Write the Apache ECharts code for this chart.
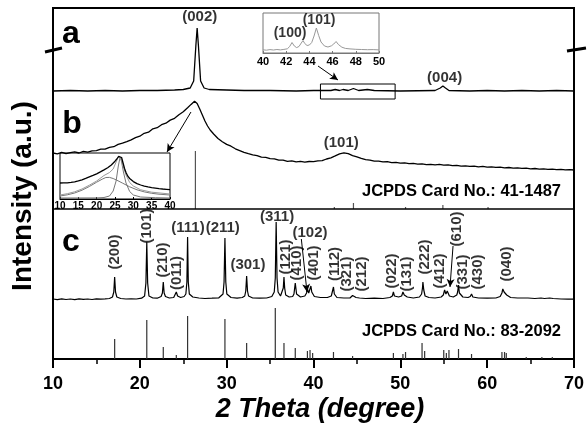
<!DOCTYPE html>
<html><head><meta charset="utf-8">
<script src="https://cdn.jsdelivr.net/npm/echarts/dist/echarts.min.js"></script>
<style>html,body{margin:0;padding:0;background:#fff}#c{width:588px;height:429px}</style>
</head><body><div id="c"></div>
<script>
const FONT = '"Liberation Sans", Arial, sans-serif';

// ---- axis ticks ----
const xTicks = [10, 20, 30, 40, 50, 60, 70];
const insetATicks = [40, 42, 44, 46, 48, 50];
const insetBTicks = [10, 15, 20, 25, 30, 35, 40];

// ---- panel a: graphite pattern (intensity above its own baseline) ----
const patternA = [[10,0],[12,0.5],[14,0],[16,0.5],[18,0],[20,0.5],[22,0.5],[24,1],[25,1.5],[25.8,3],[26.2,10],[26.45,45],[26.6,63],[26.75,45],[27,10],[27.4,3],[28,1.5],[30,1],[32,0.5],[35,0.5],[38,0],[40,0.5],[42,0.5],[42.5,1.5],[43,0.5],[43.4,1.5],[44,0.5],[44.6,2.5],[45.2,0.5],[46.2,1.5],[47,0.5],[50,0],[54,0.5],[54.6,3],[54.9,5],[55.2,3],[55.6,0.5],[58,0],[60,0.5],[62,0],[64,0.5],[66,0],[68,0.5],[70,0]];

// ---- inset of panel a (40-50 deg) ----
const insetA = [[40,3.2],[40.3,2.8],[40.6,3.4],[40.9,3],[41.2,3.5],[41.5,3.1],[41.8,3.6],[42.1,4.2],[42.3,6.5],[42.5,10.5],[42.7,7],[42.9,5.4],[43.1,6.5],[43.3,10],[43.45,12.5],[43.6,9.5],[43.8,7.5],[44.0,8],[44.2,10.5],[44.4,17],[44.6,25],[44.8,17.5],[45.0,11],[45.3,7],[45.6,6],[45.9,7.2],[46.1,9],[46.3,11.5],[46.5,8.5],[46.8,5.8],[47.1,4.6],[47.5,4.1],[48,3.7],[48.5,3.5],[49,3.3],[49.5,3.4],[50,3.1]];

// ---- panel b: pattern (intensity above the b/c divider) ----
const patternB = [[10,56],[10.5,55.2],[11,56.6],[11.5,55.4],[12,56.3],[12.5,57.1],[13,56],[13.5,57.6],[14,56.9],[14.5,58.2],[15,58.4],[15.5,59.8],[16,59.9],[16.5,61.7],[17,62.3],[17.5,64.6],[18,65.8],[18.5,67.4],[19,69.2],[19.5,71.3],[20,72.8],[20.5,75.7],[21,76.8],[21.5,80.2],[22,81.3],[22.5,84.3],[23,85.8],[23.5,88.9],[24,90.7],[24.5,94.3],[25,97.2],[25.5,101.3],[25.9,104.6],[26.3,107.8],[26.6,105.5],[26.9,100],[27.2,94],[27.5,88],[27.8,83],[28.1,79],[28.5,75],[29,70.5],[29.5,67.3],[30,64.6],[30.5,62.8],[31,60.2],[31.5,58.4],[32,56.6],[32.5,55.3],[33,54.2],[33.5,53.4],[34,51.8],[34.5,51.7],[35,50.3],[35.5,50.2],[36,48.8],[36.5,48.9],[37,47.7],[37.5,48.1],[38,47.2],[38.5,47.6],[39,46.8],[39.5,47.5],[40,47.3],[40.5,48.2],[41,48.4],[41.5,50],[42,51.2],[42.5,53.1],[43,55.2],[43.5,56.1],[44,55.3],[44.5,53.4],[45,52.2],[45.5,50.6],[46,49.3],[46.5,48.9],[47,47.8],[47.5,47.9],[48,47.2],[48.5,47.4],[49,46.4],[49.5,46.6],[50,45.8],[50.5,46.1],[51,45.3],[51.5,45.6],[52,44.8],[52.5,45.2],[53,44.4],[53.5,44.7],[54,44.2],[54.5,44.6],[55,43.8],[55.5,44.1],[56,43.3],[56.5,43.7],[57,42.8],[57.5,43.2],[58,42.7],[58.5,42.9],[59,42.2],[59.5,42.6],[60,41.8],[60.5,42.1],[61,41.6],[61.5,41.9],[62,41.2],[62.5,41.5],[63,40.8],[63.5,41.1],[64,40.6],[64.5,40.9],[65,40.2],[65.5,40.5],[66,39.8],[66.5,40.1],[67,39.7],[67.5,39.9],[68,39.3],[68.5,39.6],[69,39.1],[69.5,39.4],[70,39]];

// JCPDS 41-1487 reference lines [2theta, relative intensity]
const refB = [[26.4,58],[42.4,2],[44.6,6],[50.6,2],[54.9,4],[60.1,2]];

// ---- inset of panel b (10-40 deg): observed + fitted components ----
const insetBObs = [[10,16],[10.5,16.8],[11,16.1],[11.5,16.9],[12,16.2],[12.5,17],[13,16.6],[13.5,17.5],[14,17.1],[14.5,18],[15,18.1],[15.5,19],[16,19.2],[16.5,20.2],[17,20.6],[17.5,21.7],[18,22.1],[18.5,23.2],[19,23.6],[19.5,24.8],[20,25.2],[20.5,26.5],[21,27.1],[21.5,28.4],[22,29.1],[22.5,30.5],[23,31.3],[23.5,32.9],[24,34],[24.5,35.8],[25,37.8],[25.5,40],[26,42.6],[26.4,44],[26.8,41.5],[27.2,36],[27.6,30.5],[28,26.5],[28.5,22.8],[29,20.5],[29.5,18.6],[30,17.4],[30.5,16],[31,15.4],[31.5,14.2],[32,14],[32.5,13],[33,12.9],[33.5,12],[34,12.1],[34.5,11.2],[35,11.4],[35.5,10.6],[36,10.9],[36.5,10.1],[37,10.4],[37.5,9.7],[38,10],[38.5,9.3],[39,9.7],[39.5,9],[40,9.3]];
const insetBBroad = [[10,3],[12,4.2],[14,6],[16,8.8],[18,12.5],[20,16.8],[21.5,19.8],[22.5,21.5],[23.5,21.6],[24.5,20.5],[25.5,18.8],[27,16],[29,12.2],[31,9.2],[33,7.1],[35,5.7],[37,4.8],[40,4]];
const insetBSharp = [[10,1],[20,1.1],[22,1.5],[23.5,3],[24.5,8],[25.3,18],[25.9,33],[26.4,42],[26.8,37],[27.3,27],[28,16],[29,7.5],[30,4],[32,2],[36,1.3],[40,1]];
const insetBSum = [[10,4],[12,5.3],[14,7.2],[16,10],[18,13.8],[20,18],[22,23.5],[23.5,26.5],[24.5,30],[25.3,37],[25.9,42],[26.4,43.5],[26.8,40],[27.3,32],[28,24],[29,16.5],[30,13],[32,9.2],[35,6.8],[40,5]];

// ---- panel c: pattern (intensity above its own baseline) ----
const patternC = [[10,1],[10.5,0.4],[11,1.2],[11.5,0.5],[12,1],[12.5,0.3],[13,1.1],[13.5,0.6],[14,1],[14.5,0.5],[15,1.2],[15.5,0.8],[16,1.1],[16.5,1.5],
[16.85,3],[17.0,8],[17.1,23],[17.2,8],[17.35,3],[17.8,1.5],[18.4,1],[19,1.2],[19.6,1],[20.2,1.8],
[20.55,4],[20.7,17],[20.8,58],[20.9,17],[21.05,4],[21.5,2],[22,1.8],
[22.45,3.5],[22.6,7],[22.7,18],[22.8,7],[22.95,3.5],[23.4,2],[23.9,2.5],
[24.05,4],[24.2,8],[24.35,4],[24.7,2.5],[25.1,3.5],
[25.3,6],[25.42,18],[25.5,63],[25.58,18],[25.7,6],[26.1,3],[26.8,2],[27.5,1.5],[28.3,1.8],[29.1,2.2],
[29.58,6],[29.7,18],[29.8,62],[29.9,18],[30.02,6],[30.5,2.5],[31.2,1.8],[31.8,2.5],
[32.08,4],[32.2,9],[32.3,24],[32.4,9],[32.52,4],[33,2],[33.8,1.8],[34.6,2],[35.2,3.5],
[35.48,8],[35.6,22],[35.7,78],[35.8,22],[35.92,8],[36.2,4],
[36.42,6],[36.52,12],[36.6,23],[36.68,12],[36.8,5],[37.2,3],[37.6,3.5],
[37.75,6],[37.9,17],[38.05,6],[38.5,3],[39.0,4],
[39.2,7],[39.3,11],[39.45,7],[39.6,9],[39.7,14],[39.8,8],[40.1,3.5],[40.8,2.5],[41.6,2.5],[42.05,4],
[42.2,6],[42.3,13],[42.4,6],[42.7,2.5],[43.5,2],[44.2,2],
[44.4,2.5],[44.5,4.5],[44.6,2.5],[44.9,2.5],[45.1,4],[45.3,2],[46,1.5],[47,1.8],[48,1.5],[48.8,2.5],
[49.08,4],[49.2,8],[49.32,4],[49.8,3],[50.15,4],[50.3,8],[50.45,5],[50.6,6],[50.8,3],[51.5,2],[52.2,3],
[52.45,6],[52.55,12],[52.6,18],[52.7,10],[52.85,4],[53.3,2.5],[54,2],[54.7,3],
[54.95,5],[55.1,10],[55.25,6],[55.4,9],[55.5,10],[55.65,4],[56.1,3],[56.5,5],
[56.6,8],[56.7,15],[56.8,7],[57.2,3],[57.8,2.5],[58.05,3.5],[58.2,6],[58.35,3],[59,2],[60,1.8],[61,2],[61.5,3.5],
[61.7,7],[61.8,11],[61.95,8],[62.1,10],[62.25,5],[62.7,2.5],[63.5,2],[64.3,2],[64.5,3.5],[64.7,2],[65.5,1.5],[66.2,2],[66.4,3],[66.6,1.5],[67.2,2],[67.4,3.5],[67.6,1.5],[68.5,1],[69.3,0.8],[70,0.8]];

// JCPDS 83-2092 reference lines [2theta, relative intensity]
const refC = [[17.1,20],[20.8,39],[22.7,12],[24.2,4],[25.5,43],[29.8,40],[32.3,16],[35.6,51],[36.6,16],[37.9,11],[39.3,8],[39.6,9],[39.9,6],[42.3,7],[44.5,3],[49.2,6],[50.3,5],[50.6,7],[52.5,16],[52.8,8],[55.0,9],[55.3,6],[55.6,9],[56.7,10],[58.2,5],[61.7,7],[62.0,7],[62.2,6],[64.5,2],[66.3,2],[67.5,2]];

// ---- peak labels: [text, 2theta, axis position] ----
const labelsH = [['(002)',26.9,342],['(004)',55.1,281],['(101)',43.2,216],['(111)',25.55,131],['(211)',29.55,131],['(301)',32.45,94],['(311)',35.8,142],['(102)',39.6,126]];
const labelsV = [['(200)',17.14,107],['(101)',20.83,133],['(210)',22.67,99],['(011)',24.28,86],['(121)',36.77,102],['(410)',38.1,96],['(401)',40.06,96],['(112)',42.48,95],['(321)',43.86,85],['(212)',45.6,85],['(022)',49.04,88],['(131)',50.77,85],['(222)',52.84,102],['(412)',54.57,88],['(610)',56.53,130],['(331)',57.2,87],['(430)',58.94,87],['(040)',62.28,95]];
const labelsInsetA = [['(100)',42.33,20],['(101)',44.83,33]];

// ---- layout (vertical stacking of panels) ----
const OFF_A = 268, OFF_B = 150, OFF_C = 59, OFF_REF_C = 0;

const shift = (arr, off) => arr.map(p => [p[0], p[1] + off]);

function lineSeries(data, xi, color, width) {
  return {type:'line', xAxisIndex:xi, yAxisIndex:xi, data, showSymbol:false, symbol:'none',
    lineStyle:{color, width}, silent:true, z:3};
}
function stickSeries(data, base, color) {
  return {type:'custom', xAxisIndex:0, yAxisIndex:0, data, silent:true, z:3,
    renderItem:(params, api) => {
      const x = api.value(0), h = api.value(1);
      const p0 = api.coord([x, base]), p1 = api.coord([x, base + h]);
      return {type:'line', shape:{x1:p0[0], y1:p0[1], x2:p1[0], y2:p1[1]}, style:{stroke:color, lineWidth:1.2}};
    }};
}
function labelSeries(list, rotate, xi, size) {
  return {type:'scatter', xAxisIndex:xi, yAxisIndex:xi, symbolSize:1, silent:true, z:6,
    itemStyle:{color:'rgba(0,0,0,0)'},
    data: list.map(d => ({name:d[0], value:[d[1], d[2]]})),
    label:{show:true, position:'inside', rotate, formatter:'{b}', color:'#000',
      fontFamily:FONT, fontWeight:'bold', fontSize:size}};
}
const arrowLine = (a, b) => [{coord:a}, {coord:b}];

const chart = echarts.init(document.getElementById('c'), null, {renderer:'canvas'});
const axisText = {color:'#000', fontFamily:FONT, fontWeight:'bold'};

chart.setOption({
  animation:false,
  backgroundColor:'#fff',
  grid:[
    {left:53, right:14, top:8, bottom:70, show:true, borderColor:'#000', borderWidth:2, backgroundColor:'rgba(0,0,0,0)'},
    {left:60, top:153, width:110, height:46, show:true, borderColor:'#000', borderWidth:1, backgroundColor:'#fff'},
    {left:263, top:13, width:116, height:40, show:true, borderColor:'#777', borderWidth:1, backgroundColor:'#fff'}
  ],
  xAxis:[
    {gridIndex:0, type:'value', min:xTicks[0], max:xTicks[xTicks.length-1], interval:xTicks[1]-xTicks[0],
      axisLine:{show:true, onZero:false, lineStyle:{color:'#000', width:2}},
      axisTick:{show:true, inside:false, length:9, lineStyle:{color:'#000', width:2}},
      minorTick:{show:true, splitNumber:2, length:5, lineStyle:{color:'#000', width:1.5}},
      splitLine:{show:false}, minorSplitLine:{show:false},
      axisLabel:Object.assign({margin:16, fontSize:18}, axisText)},
    {gridIndex:1, type:'value', min:insetBTicks[0], max:insetBTicks[insetBTicks.length-1], interval:insetBTicks[1]-insetBTicks[0],
      axisLine:{show:true, onZero:false, lineStyle:{color:'#000', width:1}},
      axisTick:{show:true, inside:true, length:2, lineStyle:{color:'#000'}},
      splitLine:{show:false},
      axisLabel:Object.assign({margin:2, fontSize:10, showMinLabel:true, showMaxLabel:true}, axisText)},
    {gridIndex:2, type:'value', min:insetATicks[0], max:insetATicks[insetATicks.length-1], interval:insetATicks[1]-insetATicks[0],
      axisLine:{show:true, onZero:false, lineStyle:{color:'#777', width:1}},
      axisTick:{show:true, inside:true, length:2, lineStyle:{color:'#777'}},
      splitLine:{show:false},
      axisLabel:Object.assign({margin:3, fontSize:11, showMinLabel:true, showMaxLabel:true}, axisText)}
  ],
  yAxis:[
    {gridIndex:0, type:'value', min:0, max:351, axisLine:{show:true, onZero:false, lineStyle:{color:'#000', width:2}},
      axisTick:{show:false}, axisLabel:{show:false}, splitLine:{show:false}},
    {gridIndex:1, type:'value', min:0, max:46, axisLine:{show:false}, axisTick:{show:false}, axisLabel:{show:false}, splitLine:{show:false}},
    {gridIndex:2, type:'value', min:0, max:40, axisLine:{show:false}, axisTick:{show:false}, axisLabel:{show:false}, splitLine:{show:false}}
  ],
  series:[
    Object.assign(lineSeries(shift(patternA, OFF_A), 0, '#000', 1.3), {
      markArea:{silent:true, itemStyle:{color:'rgba(0,0,0,0)', borderColor:'#000', borderWidth:1},
        data:[[{coord:[40.8, 260]}, {coord:[49.4, 275]}]]}
    }),
    Object.assign(lineSeries(shift(patternB, OFF_B), 0, '#000', 1.3), {
      markLine:{silent:true, symbol:'none', label:{show:false}, lineStyle:{color:'#000', width:1.5, type:'solid'},
        data:[{yAxis:OFF_B}]}
    }),
    stickSeries(refB, OFF_B, '#555'),
    Object.assign(lineSeries(shift(patternC, OFF_C), 0, '#000', 1.2), {
      markLine:{silent:true, symbol:['none','arrow'], symbolSize:[6,8], label:{show:false},
        lineStyle:{color:'#000', width:1, type:'solid'},
        data:[arrowLine([40.52,293],[42.82,279]), arrowLine([25.89,247],[23.13,207]),
              arrowLine([38.6,120],[39.25,67]), arrowLine([56.07,113],[55.72,72])]}
    }),
    stickSeries(refC, OFF_REF_C, '#333'),
    lineSeries(insetBBroad, 1, '#777', 1),
    lineSeries(insetBSharp, 1, '#777', 1),
    lineSeries(insetBSum, 1, '#999', 1),
    lineSeries(insetBObs, 1, '#000', 1.3),
    lineSeries(insetA, 2, '#999', 1),
    labelSeries(labelsH, 0, 0, 15),
    labelSeries(labelsV, 90, 0, 15),
    labelSeries(labelsInsetA, 0, 2, 14)
  ],
  graphic:[
    {type:'text', left:null, x:71, y:34, style:{text:'a', font:'bold 32px ' + FONT, fill:'#000', textAlign:'center', textVerticalAlign:'middle', align:'center', verticalAlign:'middle'}},
    {type:'text', x:72, y:124, style:{text:'b', font:'bold 32px ' + FONT, fill:'#000', textAlign:'center', textVerticalAlign:'middle', align:'center', verticalAlign:'middle'}},
    {type:'text', x:71, y:242, style:{text:'c', font:'bold 32px ' + FONT, fill:'#000', textAlign:'center', textVerticalAlign:'middle', align:'center', verticalAlign:'middle'}},
    {type:'text', x:561, y:191, style:{text:'JCPDS Card No.: 41-1487', font:'bold 16.5px ' + FONT, fill:'#000', textAlign:'right', textVerticalAlign:'middle', align:'right', verticalAlign:'middle'}},
    {type:'text', x:561, y:331, style:{text:'JCPDS Card No.: 83-2092', font:'bold 16.5px ' + FONT, fill:'#000', textAlign:'right', textVerticalAlign:'middle', align:'right', verticalAlign:'middle'}},
    {type:'text', x:23, y:196, rotation:Math.PI/2, style:{text:'Intensity (a.u.)', font:'bold 28px ' + FONT, fill:'#000', textAlign:'center', textVerticalAlign:'middle', align:'center', verticalAlign:'middle'}},
    {type:'text', x:320, y:410, style:{text:'2 Theta (degree)', font:'italic bold 27px ' + FONT, fill:'#000', textAlign:'center', textVerticalAlign:'middle', align:'center', verticalAlign:'middle'}},
    {type:'line', shape:{x1:45, y1:52, x2:62, y2:48}, style:{stroke:'#000', lineWidth:3}},
    {type:'line', shape:{x1:567, y1:51, x2:586, y2:48}, style:{stroke:'#000', lineWidth:3}}
  ]
});
</script></body></html>
